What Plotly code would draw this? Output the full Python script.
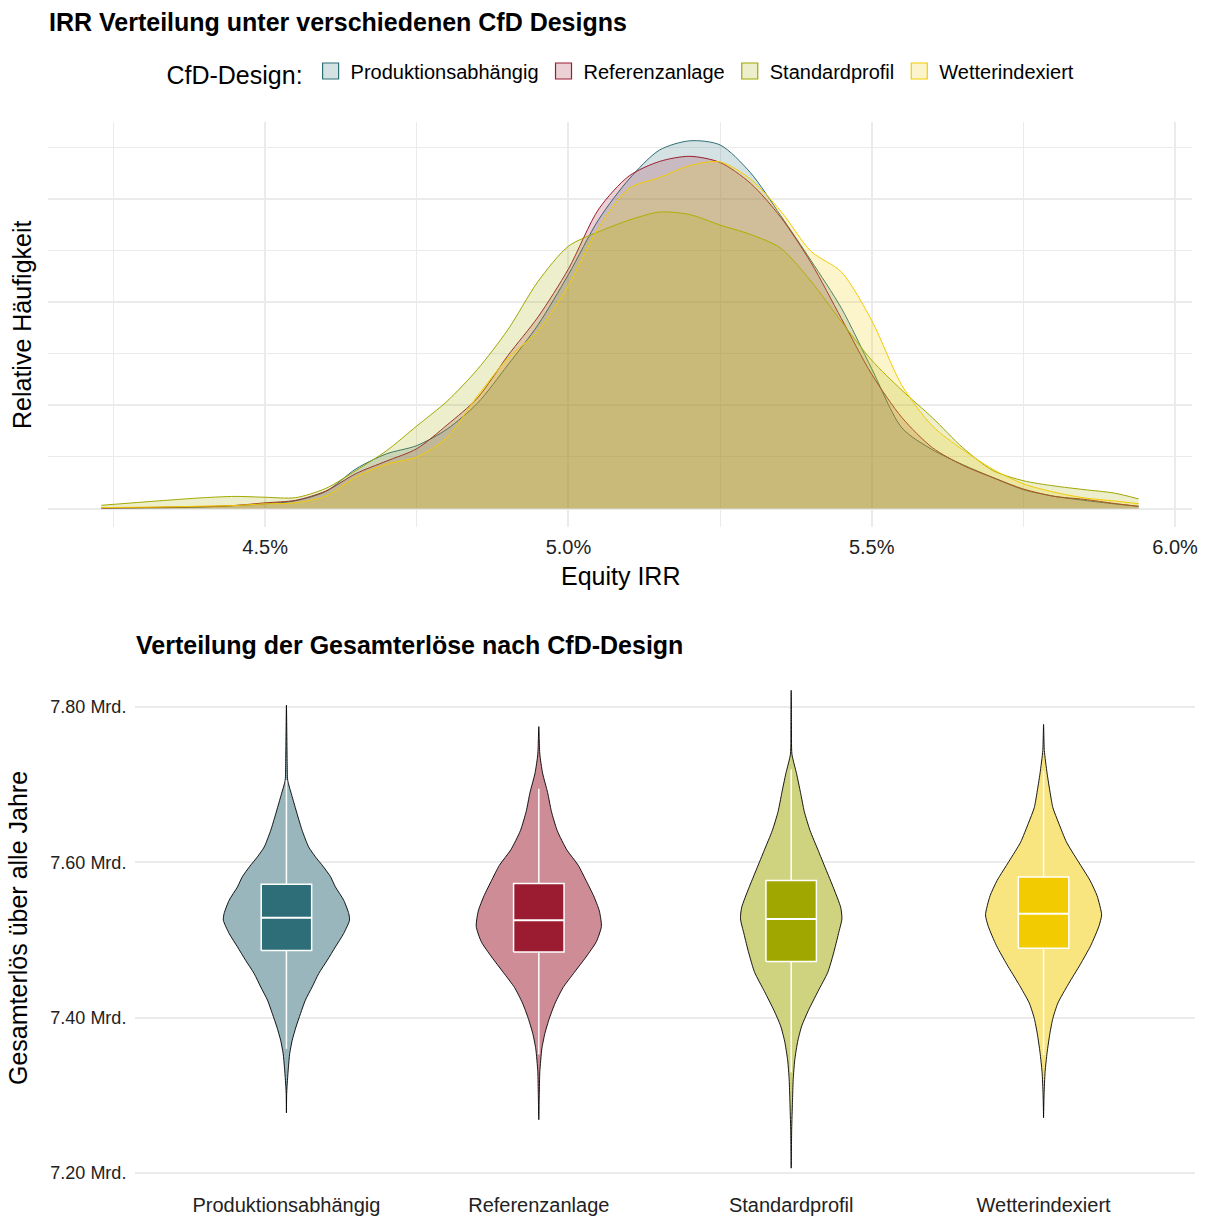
import plotly.graph_objects as go

# ---------------- data ----------------
designs = ["Produktionsabhängig", "Referenzanlage", "Standardprofil", "Wetterindexiert"]
line_colors = ["#2E6E78", "#9B1B30", "#A0A800", "#F2CC00"]
fill_density = ["rgba(46,110,120,0.2)", "rgba(155,27,48,0.2)", "rgba(160,168,0,0.2)", "rgba(242,204,0,0.2)"]
fill_violin = ["#98B6BB", "#CD8C96", "#CFD37F", "#F8E57F"]

# Equity IRR grid (%)
irr_pct = [4.23, 4.30, 4.35, 4.40, 4.45, 4.50, 4.55, 4.60, 4.65, 4.70, 4.75, 4.80,
           4.85, 4.90, 4.95, 5.00, 5.05, 5.10, 5.15, 5.20, 5.25, 5.30, 5.35, 5.40,
           5.45, 5.50, 5.55, 5.60, 5.65, 5.70, 5.75, 5.80, 5.85, 5.90, 5.94]

dens_produktion = [0.3, 0.4, 0.5, 0.8, 1.5, 2.3, 3.8, 8.3, 19.3, 26.5, 30.5, 38.5,
                   51, 69.5, 89, 113.3, 140, 159.5, 173.5, 178, 176, 162.6, 141.8, 120,
                   97, 67.7, 39, 28.5, 21.3, 15, 9.2, 6, 4, 2.3, 1.1]
dens_referenz = [0.3, 0.5, 0.8, 1.0, 1.5, 2.8, 4.0, 8.5, 17, 23, 29, 40.5,
                 53.5, 74, 92.8, 116, 145, 161, 168, 170.5, 167.5, 157.5, 141, 119,
                 92, 65, 44, 29.5, 21, 15, 9.5, 6, 4.5, 2.5, 1.1]
dens_standard = [1.6, 3.2, 4.3, 5.3, 5.9, 5.5, 5.3, 9.8, 18.5, 28, 40, 52,
                 67.4, 86.5, 110, 127, 134, 139.6, 143.5, 142.3, 137.2, 132.7, 126, 110,
                 90.5, 71.8, 57.2, 44, 29.5, 18.4, 13.5, 11, 9.2, 7.5, 4.7]
dens_wetter = [0.5, 0.7, 0.9, 1.2, 1.5, 2.3, 2.8, 6, 15.3, 21.5, 25, 34.5,
               54.5, 72.8, 86, 108, 136, 155, 160.2, 166, 167.8, 159.5, 144, 124.5,
               114.5, 91, 59.5, 40, 28.5, 19, 12, 8, 5.2, 3.7, 2.4]
densities = [dens_produktion, dens_referenz, dens_standard, dens_wetter]

# Violin profiles: revenue (Mrd. EUR) and half width (category units)
viol_prod_y = [7.8026, 7.7275, 7.706, 7.6845, 7.663, 7.6416, 7.620, 7.6072, 7.5943, 7.5815,
               7.5686, 7.5514, 7.5343, 7.5257, 7.5086, 7.4913, 7.4742, 7.457, 7.4398, 7.4227,
               7.4055, 7.3883, 7.3712, 7.354, 7.3368, 7.3196, 7.3025, 7.2775]
viol_prod_w = [0, 0.003, 0.005, 0.023, 0.042, 0.062, 0.088, 0.115, 0.147, 0.175,
               0.194, 0.227, 0.247, 0.250, 0.227, 0.194, 0.162, 0.128, 0.102, 0.075,
               0.056, 0.038, 0.023, 0.013, 0.008, 0.004, 0.001, 0]
viol_ref_y = [7.775, 7.7395, 7.715, 7.690, 7.6657, 7.641, 7.6163, 7.5965, 7.577, 7.5572,
              7.5374, 7.5177, 7.498, 7.4783, 7.4586, 7.4389, 7.4192, 7.3995, 7.3798, 7.360,
              7.3305, 7.301, 7.2688]
viol_ref_w = [0, 0.004, 0.015, 0.035, 0.050, 0.073, 0.111, 0.156, 0.187, 0.217,
              0.240, 0.248, 0.228, 0.187, 0.141, 0.096, 0.065, 0.042, 0.024, 0.012,
              0.004, 0.002, 0]
viol_std_y = [7.8217, 7.78, 7.7394, 7.7148, 7.690, 7.6655, 7.6409, 7.6163, 7.5916, 7.567,
              7.5424, 7.5276, 7.508, 7.4833, 7.4586, 7.434, 7.4094, 7.3897, 7.370, 7.3453,
              7.3207, 7.2911, 7.2567, 7.2064]
viol_std_w = [0, 0.001, 0.003, 0.021, 0.037, 0.052, 0.075, 0.106, 0.137, 0.168,
              0.196, 0.201, 0.187, 0.168, 0.145, 0.106, 0.068, 0.042, 0.026, 0.014,
              0.008, 0.005, 0.002, 0]
viol_wet_y = [7.7778, 7.7443, 7.7148, 7.690, 7.6704, 7.6507, 7.6261, 7.6015, 7.5769, 7.5571,
              7.5325, 7.5177, 7.4931, 7.4685, 7.4438, 7.4192, 7.3995, 7.3798, 7.3552, 7.3305,
              7.301, 7.2714]
viol_wet_w = [0, 0.003, 0.014, 0.026, 0.037, 0.060, 0.091, 0.137, 0.184, 0.212,
              0.230, 0.219, 0.187, 0.145, 0.099, 0.057, 0.037, 0.025, 0.014, 0.006,
              0.002, 0]
violin_y = [viol_prod_y, viol_ref_y, viol_std_y, viol_wet_y]
violin_w = [viol_prod_w, viol_ref_w, viol_std_w, viol_wet_w]

# Box statistics (Mrd. EUR)
box_q1 = [7.4867, 7.4847, 7.4724, 7.4897]
box_median = [7.529, 7.5257, 7.5271, 7.534]
box_q3 = [7.572, 7.573, 7.5769, 7.5813]
box_low = [7.360, 7.3526, 7.330, 7.352]
box_high = [7.706, 7.695, 7.720, 7.718]
BOX_HALF = 0.1

x_tickvals = [0.045, 0.05, 0.055, 0.06]
x_minor = [0.0425, 0.0475, 0.0525, 0.0575]
y_tickvals = [0, 50, 100, 150]
y_minor = [25, 75, 125, 175]
rev_tickvals = [7.2, 7.4, 7.6, 7.8]
rev_ticktext = ["7.20 Mrd.", "7.40 Mrd.", "7.60 Mrd.", "7.80 Mrd."]

FONT = "Liberation Sans, Arial, sans-serif"
GRID = "#EBEBEB"

fig = go.Figure()

# ---------------- top: densities ----------------
for name, dens, lc, fc in zip(designs, densities, line_colors, fill_density):
    fig.add_trace(go.Scatter(
        x=[v / 100 for v in irr_pct], y=dens, name=name, mode="lines",
        line=dict(color=lc, width=1, shape="spline", smoothing=0.8),
        fill="tozeroy", fillcolor=fc, xaxis="x", yaxis="y",
        showlegend=False, hoverinfo="skip"))

# legend keys (square swatches)
for name, lc, fc in zip(designs, line_colors, fill_density):
    fig.add_trace(go.Scatter(
        x=[None], y=[None], name=name, mode="markers",
        marker=dict(symbol="square", size=20, color=fc, line=dict(color=lc, width=1.2)),
        xaxis="x", yaxis="y", showlegend=True))

# ---------------- bottom: violins + boxes ----------------
for i, name in enumerate(designs):
    c = i + 1
    ys = violin_y[i]
    ws = violin_w[i]
    xs = [c + w for w in ws] + [c - w for w in reversed(ws)]
    yy = list(ys) + list(reversed(ys))
    fig.add_trace(go.Scatter(
        x=xs, y=yy, mode="lines", fill="toself", fillcolor=fill_violin[i],
        line=dict(color="black", width=0.9, shape="spline", smoothing=0.6),
        showlegend=False, xaxis="x2", yaxis="y2", hoverinfo="skip"))
    # whiskers
    fig.add_trace(go.Scatter(
        x=[c, c, None, c, c], y=[box_q3[i], box_high[i], None, box_q1[i], box_low[i]],
        mode="lines", line=dict(color="white", width=1.5),
        showlegend=False, xaxis="x2", yaxis="y2", hoverinfo="skip"))
    # box
    fig.add_trace(go.Scatter(
        x=[c - BOX_HALF, c + BOX_HALF, c + BOX_HALF, c - BOX_HALF, c - BOX_HALF],
        y=[box_q1[i], box_q1[i], box_q3[i], box_q3[i], box_q1[i]],
        mode="lines", fill="toself", fillcolor=line_colors[i],
        line=dict(color="white", width=1.5),
        showlegend=False, xaxis="x2", yaxis="y2", hoverinfo="skip"))
    # median
    fig.add_trace(go.Scatter(
        x=[c - BOX_HALF, c + BOX_HALF], y=[box_median[i], box_median[i]],
        mode="lines", line=dict(color="white", width=2),
        showlegend=False, xaxis="x2", yaxis="y2", hoverinfo="skip"))

W, H = 1210, 1219

def px(xp):
    return xp / W

def py(yp):
    return 1 - yp / H

fig.update_layout(
    width=W, height=H, autosize=False,
    margin=dict(l=0, r=0, t=0, b=0, pad=0, autoexpand=False),
    paper_bgcolor="white", plot_bgcolor="white",
    font=dict(family=FONT, color="#000000"),
    xaxis=dict(domain=[px(48), px(1192)], range=[0.04142, 0.06028],
               tickvals=x_tickvals, tickformat=".1%",
               tickfont=dict(size=20, color="#222222"),
               ticks="outside", ticklen=2, tickcolor="rgba(0,0,0,0)",
               showgrid=True, gridcolor=GRID, gridwidth=1.5,
               minor=dict(tickvals=x_minor, showgrid=True, gridcolor=GRID, gridwidth=1.2, ticks=""),
               zeroline=False, showline=False, anchor="y", automargin=False),
    yaxis=dict(domain=[py(527), py(122)], range=[-8.9, 187.1],
               tickvals=y_tickvals, showticklabels=False,
               showgrid=True, gridcolor=GRID, gridwidth=1.5,
               minor=dict(tickvals=y_minor, showgrid=True, gridcolor=GRID, gridwidth=1.2, ticks=""),
               zeroline=False, showline=False, anchor="x", automargin=False),
    xaxis2=dict(domain=[px(135), px(1195)], range=[0.4, 4.6],
                tickvals=[1, 2, 3, 4], ticktext=designs,
                tickfont=dict(size=20, color="#222222"),
                ticks="", showgrid=False, zeroline=False, showline=False,
                anchor="y2", automargin=False),
    yaxis2=dict(domain=[py(1191), py(666)], range=[7.177, 7.853],
                tickvals=rev_tickvals, ticktext=rev_ticktext,
                tickfont=dict(size=18, color="#222222"),
                ticks="outside", ticklen=4, tickcolor="rgba(0,0,0,0)",
                showgrid=True, gridcolor=GRID, gridwidth=1.5,
                zeroline=False, showline=False, anchor="x2", automargin=False),
    legend=dict(orientation="h", x=0.514, xanchor="center", y=py(73), yanchor="middle",
                title=dict(text="CfD-Design:", font=dict(size=25), side="left"),
                font=dict(size=20), itemwidth=30, bgcolor="rgba(0,0,0,0)"),
    showlegend=True,
    annotations=[
        dict(text="<b>IRR Verteilung unter verschiedenen CfD Designs</b>", x=px(47), y=py(22),
             xref="paper", yref="paper", xanchor="left", yanchor="middle",
             showarrow=False, font=dict(size=25)),
        dict(text="Equity IRR", x=px(620), y=py(576), xref="paper", yref="paper",
             xanchor="center", yanchor="middle", showarrow=False, font=dict(size=25)),
        dict(text="Relative Häufigkeit", x=px(22), y=py(325), xref="paper", yref="paper",
             xanchor="center", yanchor="middle", textangle=-90, showarrow=False,
             font=dict(size=25)),
        dict(text="<b>Verteilung der Gesamterlöse nach CfD-Design</b>", x=px(134), y=py(645),
             xref="paper", yref="paper", xanchor="left", yanchor="middle",
             showarrow=False, font=dict(size=25)),
        dict(text="Gesamterlös über alle Jahre", x=px(18), y=py(928), xref="paper", yref="paper",
             xanchor="center", yanchor="middle", textangle=-90, showarrow=False,
             font=dict(size=25)),
    ],
)

fig.write_html("out.html", config={"displayModeBar": False, "responsive": False},
               post_script="document.body.style.margin='0px';document.body.style.overflow='hidden';")
